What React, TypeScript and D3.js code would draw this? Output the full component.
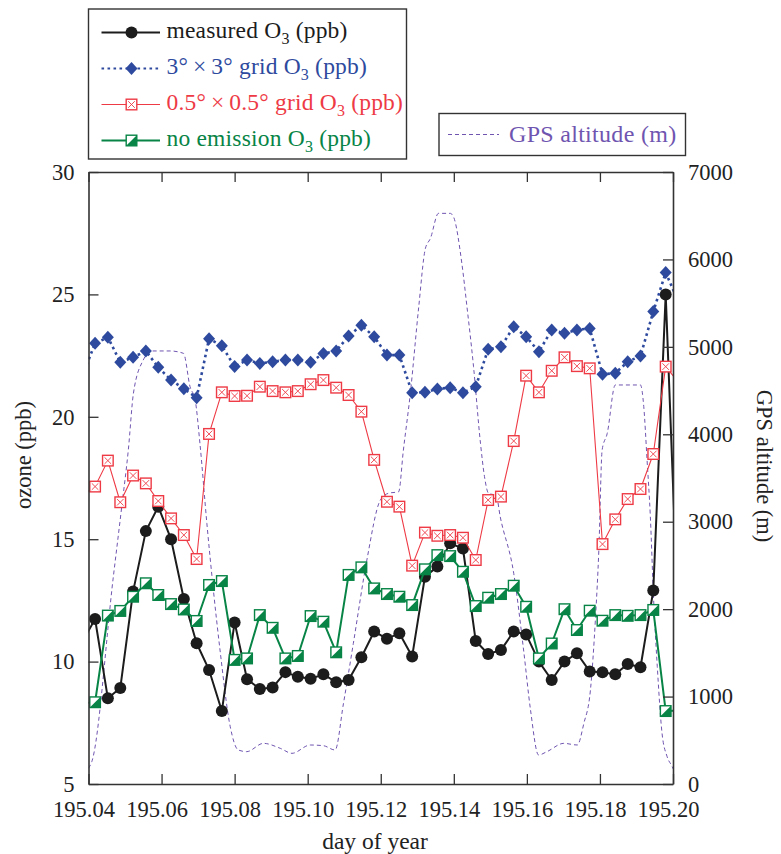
import React, { useEffect, useRef } from 'react';
import * as d3 from 'd3';

// sample times (day of year), 5 min apart
const TIME = [
  195.0383, 195.0418, 195.0453, 195.0487, 195.0522, 195.0557, 195.0591, 195.0626,
  195.0661, 195.0696, 195.0730, 195.0765, 195.0800, 195.0834, 195.0869, 195.0904,
  195.0939, 195.0973, 195.1008, 195.1043, 195.1078, 195.1112, 195.1147, 195.1182,
  195.1217, 195.1251, 195.1286, 195.1321, 195.1355, 195.1390, 195.1425, 195.1460,
  195.1494, 195.1529, 195.1564, 195.1598, 195.1633, 195.1668, 195.1703, 195.1737,
  195.1772, 195.1807, 195.1842, 195.1876, 195.1911, 195.1946, 195.1980, 195.2015
];

const MEASURED = [
  10.8, 11.74, 8.5, 8.92, 12.86, 15.33, 16.33, 15.0, 12.56, 10.75, 9.66, 7.98,
  11.6, 9.28, 8.88, 8.94, 9.57, 9.38, 9.3, 9.48, 9.16, 9.25, 10.18, 11.23,
  10.93, 11.16, 10.21, 13.47, 13.88, 14.83, 14.62, 10.84, 10.31, 10.47, 11.23, 11.11,
  10.0, 9.25, 10.0, 10.34, 9.6, 9.56, 9.48, 9.9, 9.77, 12.9, 25.0, 11.4
];

const GRID3 = [
  21.67, 23.0, 23.25, 22.23, 22.43, 22.69, 22.02, 21.5, 21.15, 20.78, 23.19, 22.9,
  22.05, 22.32, 22.18, 22.25, 22.32, 22.32, 22.23, 22.59, 22.69, 23.3, 23.74, 23.27,
  22.52, 22.52, 20.98, 21.0, 21.14, 21.19, 20.98, 21.23, 22.76, 22.86, 23.68, 23.27,
  22.66, 23.55, 23.41, 23.55, 23.61, 21.74, 21.78, 22.25, 22.48, 24.3, 25.89, 24.7
];

const GRID05 = [
  16.8, 17.15, 18.21, 16.51, 17.6, 17.28, 16.56, 15.85, 15.17, 14.19, 19.3, 21.0,
  20.85, 20.86, 21.23, 21.05, 21.0, 21.05, 21.33, 21.5, 21.19, 20.89, 20.21, 18.24,
  16.53, 16.33, 13.92, 15.27, 15.14, 15.17, 15.06, 14.15, 16.6, 16.74, 19.01, 21.68,
  21.0, 21.88, 22.43, 22.07, 21.98, 14.8, 15.81, 16.64, 17.05, 18.48, 22.05, 21.4
];

const NO_EMIS = [
  8.3, 8.34, 11.88, 12.07, 12.65, 13.2, 12.72, 12.35, 12.13, 11.66, 13.13, 13.29,
  10.07, 10.13, 11.9, 11.38, 10.13, 10.23, 11.86, 11.63, 10.38, 13.54, 13.85, 12.99,
  12.76, 12.65, 12.31, 13.77, 14.35, 14.31, 13.67, 12.27, 12.61, 12.76, 13.1, 12.24,
  10.13, 10.74, 12.14, 11.29, 12.08, 11.67, 11.9, 11.87, 11.9, 12.11, 7.98, 8.0
];

const GPS_TIME = [
  195.0400, 195.0409, 195.0468, 195.0491, 195.0509, 195.0523, 195.0550, 195.0573,
  195.0623, 195.0660, 195.0678, 195.0692, 195.0705, 195.0724, 195.0760, 195.0788,
  195.0810, 195.0833, 195.0879, 195.0925, 195.0957, 195.1007, 195.1043, 195.1075,
  195.1098, 195.1125, 195.1162, 195.1199, 195.1221, 195.1249, 195.1262, 195.1281,
  195.1304, 195.1322, 195.1336, 195.1358, 195.1390, 195.1399, 195.1422, 195.1436,
  195.1454, 195.1473, 195.1484, 195.1495, 195.1516, 195.1527, 195.1564, 195.1591,
  195.1610, 195.1632, 195.1655, 195.1701, 195.1738, 195.1756, 195.1774, 195.1788,
  195.1797, 195.1806, 195.1820, 195.1842, 195.1911, 195.1920, 195.1929, 195.1938,
  195.1947, 195.1957, 195.1970, 195.1984, 195.1998, 195.2003
];

const GPS_ALT = [
  180, 255, 2371, 3172, 3820, 4469, 4850, 4953,
  4953, 4926, 4544, 4392, 3897, 2982, 1533, 655,
  389, 370, 465, 408, 351, 446, 438, 389,
  923, 1609, 2562, 3248, 3325, 3343, 3820, 4469,
  5459, 6122, 6241, 6527, 6527, 6489, 5955, 5459,
  4773, 3897, 3515, 3325, 3300, 3058, 2410, 1533,
  846, 332, 370, 465, 446, 694, 1075, 1914,
  2676, 3820, 4011, 4564, 4564, 4316, 3706, 3058,
  2105, 1342, 580, 312, 198, 150
];

const X_TICKS = [195.04, 195.06, 195.08, 195.10, 195.12, 195.14, 195.16, 195.18, 195.20];
const Y_TICKS = [5, 10, 15, 20, 25, 30];
const ALT_TICKS = [0, 1000, 2000, 3000, 4000, 5000, 6000, 7000];

const FONT = '"Liberation Serif", "Times New Roman", Times, serif';
const C_BLACK = '#1c1c1c';
const C_BLUE = '#2e4a9e';
const C_RED = '#ee3a45';
const C_GREEN = '#078446';
const C_PURPLE = '#6f55b0';

type Marker = 'circle' | 'diamond' | 'xsquare' | 'halfsquare';

function drawMarker(g: any, type: Marker, x: number, y: number) {
  if (type === 'circle') {
    g.append('circle').attr('cx', x).attr('cy', y).attr('r', 6).attr('fill', C_BLACK);
  } else if (type === 'diamond') {
    g.append('path')
      .attr('d', `M${x},${y - 6.5}L${x + 6},${y}L${x},${y + 6.5}L${x - 6},${y}Z`)
      .attr('fill', C_BLUE);
  } else if (type === 'xsquare') {
    var s = 5.3;
    g.append('rect').attr('x', x - s).attr('y', y - s).attr('width', 2 * s).attr('height', 2 * s)
      .attr('fill', '#fff').attr('stroke', C_RED).attr('stroke-width', 1.4);
    g.append('path')
      .attr('d', `M${x - s + 2},${y - s + 2}L${x + s - 2},${y + s - 2}M${x + s - 2},${y - s + 2}L${x - s + 2},${y + s - 2}`)
      .attr('stroke', C_RED).attr('stroke-width', 0.9).attr('fill', 'none');
  } else {
    var h = 5.3;
    g.append('rect').attr('x', x - h).attr('y', y - h).attr('width', 2 * h).attr('height', 2 * h)
      .attr('fill', '#fff').attr('stroke', C_GREEN).attr('stroke-width', 1.4);
    g.append('path')
      .attr('d', `M${x + h},${y - h}L${x + h},${y + h}L${x - h},${y + h}Z`)
      .attr('fill', C_GREEN);
  }
}

const App = () => {
  const ref = useRef<SVGSVGElement>(null);

  useEffect(() => {
    var left = 88.5, right = 673, top = 172, bottom = 784;
    var svg = d3.select(ref.current);
    svg.selectAll('*').remove();
    document.body.style.margin = '0';

    var x = d3.scaleLinear().domain([195.04, 195.20]).range([left, right]);
    var y = d3.scaleLinear().domain([5, 30]).range([bottom, top]);
    var yAlt = d3.scaleLinear().domain([0, 7000]).range([bottom, top]);

    svg.append('defs').append('clipPath').attr('id', 'plotclip')
      .append('rect').attr('x', left).attr('y', top).attr('width', right - left).attr('height', bottom - top);

    var plot = svg.append('g').attr('clip-path', 'url(#plotclip)');

    // GPS altitude
    var gpsLine = d3.line<number>()
      .x(function(d, i) { return x(GPS_TIME[i]); })
      .y(function(d) { return yAlt(d); })
      .curve(d3.curveMonotoneX);
    plot.append('path').attr('d', gpsLine(GPS_ALT))
      .attr('fill', 'none').attr('stroke', C_PURPLE).attr('stroke-width', 1)
      .attr('stroke-dasharray', '4,3');

    var series: { vals: number[], color: string, width: number, dash: string | null, marker: Marker }[] = [
      { vals: MEASURED, color: C_BLACK, width: 2, dash: null, marker: 'circle' },
      { vals: NO_EMIS, color: C_GREEN, width: 2, dash: null, marker: 'halfsquare' },
      { vals: GRID05, color: C_RED, width: 1.1, dash: null, marker: 'xsquare' },
      { vals: GRID3, color: C_BLUE, width: 2.6, dash: '2.6,3.4', marker: 'diamond' }
    ];

    var line = d3.line<number>()
      .x(function(d, i) { return x(TIME[i]); })
      .y(function(d) { return y(d); });

    series.forEach(function(s) {
      var p = plot.append('path').attr('d', line(s.vals))
        .attr('fill', 'none').attr('stroke', s.color).attr('stroke-width', s.width)
        .attr('stroke-linejoin', 'round');
      if (s.dash) p.attr('stroke-dasharray', s.dash);
      var mg = plot.append('g');
      s.vals.forEach(function(v, i) {
        if (TIME[i] < 195.04 || TIME[i] > 195.20) return;
        drawMarker(mg, s.marker, x(TIME[i]), y(v));
      });
    });

    // axes
    var axisStyle = function(g: any) {
      g.selectAll('.domain').attr('stroke', '#333').attr('stroke-width', 1.6);
      g.selectAll('.tick line').attr('stroke', '#333').attr('stroke-width', 1.3);
      g.selectAll('.tick text').attr('font-family', FONT).attr('font-size', 22.5).attr('fill', '#222');
    };

    svg.append('g').attr('transform', `translate(0,${bottom})`)
      .call(d3.axisBottom(x).tickValues(X_TICKS).tickFormat(d3.format('.2f')).tickSize(-10).tickSizeOuter(0).tickPadding(17))
      .call(axisStyle)
      .selectAll('.tick text').attr('dx', -5);

    svg.append('g').attr('transform', `translate(0,${top})`)
      .call(d3.axisTop(x).tickValues(X_TICKS).tickFormat(function() { return ''; }).tickSize(-10).tickSizeOuter(0))
      .call(axisStyle);

    svg.append('g').attr('transform', `translate(${left},0)`)
      .call(d3.axisLeft(y).tickValues(Y_TICKS).tickFormat(d3.format('d')).tickSize(-10).tickSizeOuter(0).tickPadding(14))
      .call(axisStyle);

    svg.append('g').attr('transform', `translate(${right},0)`)
      .call(d3.axisRight(yAlt).tickValues(ALT_TICKS).tickFormat(d3.format('d')).tickSize(-10).tickSizeOuter(0).tickPadding(15))
      .call(axisStyle);

    // axis titles
    svg.append('text').attr('x', 375).attr('y', 849).attr('text-anchor', 'middle')
      .attr('font-family', FONT).attr('font-size', 23.5).attr('fill', '#222').text('day of year');
    svg.append('text').attr('transform', 'translate(31,455) rotate(-90)').attr('text-anchor', 'middle')
      .attr('font-family', FONT).attr('font-size', 22.5).attr('fill', '#222').text('ozone (ppb)');
    svg.append('text').attr('transform', 'translate(757,466) rotate(90)').attr('text-anchor', 'middle')
      .attr('font-family', FONT).attr('font-size', 22.5).attr('fill', '#222').text('GPS altitude (m)');

    // main legend
    var lg = svg.append('g');
    lg.append('rect').attr('x', 88.5).attr('y', 9).attr('width', 318).attr('height', 150)
      .attr('fill', '#fff').attr('stroke', '#333').attr('stroke-width', 1.4);
    var entries: { pre: string, post: string, color: string, width: number, dash: string | null, marker: Marker }[] = [
      { pre: 'measured O', post: ' (ppb)', color: C_BLACK, width: 2, dash: null, marker: 'circle' },
      { pre: '3°\u2009×\u20093° grid O', post: ' (ppb)', color: C_BLUE, width: 2.2, dash: '2.6,3.4', marker: 'diamond' },
      { pre: '0.5°\u2009×\u20090.5° grid O', post: ' (ppb)', color: C_RED, width: 1.1, dash: null, marker: 'xsquare' },
      { pre: 'no emission O', post: ' (ppb)', color: C_GREEN, width: 2, dash: null, marker: 'halfsquare' }
    ];
    entries.forEach(function(e, i) {
      var ly = 32.5 + i * 36;
      var l = lg.append('line').attr('x1', 101.5).attr('x2', 160).attr('y1', ly).attr('y2', ly)
        .attr('stroke', e.color).attr('stroke-width', e.width);
      if (e.dash) l.attr('stroke-dasharray', e.dash);
      drawMarker(lg, e.marker, 131.5, ly);
      var t = lg.append('text').attr('x', 166.5).attr('y', ly + 5)
        .attr('font-family', FONT).attr('font-size', 23.5).attr('letter-spacing', 0.2).attr('fill', e.color);
      t.append('tspan').text(e.pre);
      t.append('tspan').attr('font-size', 16).attr('dy', 6).text('3');
      t.append('tspan').attr('dy', -6).text(e.post);
    });

    // GPS legend
    var g2 = svg.append('g');
    g2.append('rect').attr('x', 439).attr('y', 113.5).attr('width', 246.5).attr('height', 42)
      .attr('fill', '#fff').attr('stroke', '#333').attr('stroke-width', 1.4);
    g2.append('line').attr('x1', 448).attr('x2', 499).attr('y1', 134.5).attr('y2', 134.5)
      .attr('stroke', C_PURPLE).attr('stroke-width', 1).attr('stroke-dasharray', '4,3');
    g2.append('text').attr('x', 509).attr('y', 142)
      .attr('font-family', FONT).attr('font-size', 24).attr('letter-spacing', 0.3).attr('fill', C_PURPLE).text('GPS altitude (m)');
  }, []);

  return (
    <svg ref={ref} width={781} height={854} style={{ position: 'absolute', left: 0, top: 0, background: '#fff' }} />
  );
};

export default App;
